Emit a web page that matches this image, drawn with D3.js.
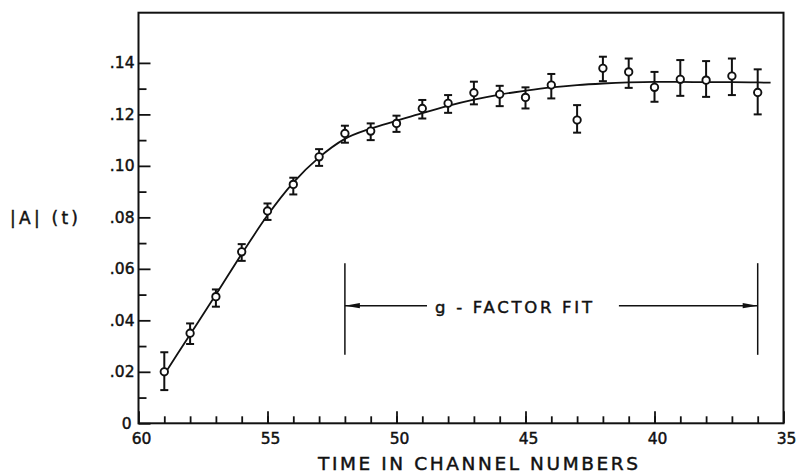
<!DOCTYPE html>
<html>
<head>
<meta charset="utf-8">
<script src="https://cdn.jsdelivr.net/npm/d3@7"></script>
<style>
  html, body { margin: 0; padding: 0; background: #fff; }
  svg { display: block; }
  text { font-family: "DejaVu Sans", "Liberation Sans", sans-serif; fill: #111; stroke: #111; stroke-width: 0.45px; }
</style>
</head>
<body>
<svg id="chart" width="796" height="473"></svg>
<script>
// Measured asymmetry |A|(t) per channel, with the lower and upper ends of each error bar
const channels = [59, 58, 57, 56, 55, 54, 53, 52, 51, 50, 49, 48, 47, 46, 45, 44, 43, 42, 41, 40, 39, 38, 37, 36];
const values   = [0.0200, 0.0350, 0.0492, 0.0666, 0.0825, 0.0928, 0.1035, 0.1126, 0.1135, 0.1165, 0.1223, 0.1243,
                  0.1284, 0.1278, 0.1266, 0.1314, 0.1178, 0.1379, 0.1365, 0.1305, 0.1336, 0.1333, 0.1349, 0.1285];
const errLow   = [0.0129, 0.0308, 0.0453, 0.0631, 0.0790, 0.0889, 0.1000, 0.1090, 0.1100, 0.1132, 0.1184, 0.1206,
                  0.1239, 0.1232, 0.1223, 0.1262, 0.1129, 0.1329, 0.1303, 0.1249, 0.1272, 0.1268, 0.1275, 0.1200];
const errHigh  = [0.0276, 0.0388, 0.0520, 0.0696, 0.0854, 0.0954, 0.1065, 0.1156, 0.1165, 0.1195, 0.1256, 0.1275,
                  0.1327, 0.1311, 0.1305, 0.1357, 0.1236, 0.1424, 0.1417, 0.1365, 0.1411, 0.1407, 0.1417, 0.1375];

// Fitted curve, sampled along its length
const fitChannels = [59, 58, 57, 56, 55, 54, 53, 52, 51, 50, 49, 48, 47, 46, 45, 44, 43, 42, 41, 40, 39, 38, 37, 36, 35.5];
const fitValues   = [0.0190, 0.0345, 0.0500, 0.0658, 0.0808, 0.0935, 0.1033, 0.1105, 0.1145, 0.1175, 0.1205, 0.1233,
                     0.1257, 0.1277, 0.1292, 0.1305, 0.1314, 0.1320, 0.1324, 0.1326, 0.1326, 0.1325, 0.1325, 0.1324, 0.1323];

// Fit-range bracket
const fitRange = [52, 36];
const bracketLevels = [0.0266, 0.0457, 0.0622]; // bottom, arrow, top

// Axes
const xDomain = [60, 35];
const yDomain = [0, 0.1595];
const xMajorTicks = [60, 55, 50, 45, 40, 35];
const xMinorTicks = d3.range(59, 35, -1);
const yMajorTicks = [0, 0.02, 0.04, 0.06, 0.08, 0.10, 0.12, 0.14];
const yMinorTicks = [0.01, 0.03, 0.05, 0.07, 0.09, 0.11, 0.13];
const yTickLabels = ["0", ".02", ".04", ".06", ".08", ".10", ".12", ".14"];

const xTitle = "TIME IN CHANNEL NUMBERS";
const yTitle = "|A| (t)";
const fitLabel = "g - FACTOR FIT";

const svg = d3.select("#chart");
const plotLeft = 138.5, plotRight = 783.5, plotTop = 12.7, plotBottom = 423.3;

const x = d3.scaleLinear().domain(xDomain).range([plotLeft, plotRight]);
const y = d3.scaleLinear().domain(yDomain).range([plotBottom, plotTop]);
const ink = "#111";

// Frame
svg.append("rect")
  .attr("x", plotLeft).attr("y", plotTop)
  .attr("width", plotRight - plotLeft).attr("height", plotBottom - plotTop)
  .attr("fill", "none").attr("stroke", ink).attr("stroke-width", 2);

// Inward ticks on the bottom axis
const xAxisMajor = d3.axisTop(x).tickValues(xMajorTicks).tickSize(12).tickFormat("");
const xAxisMinor = d3.axisTop(x).tickValues(xMinorTicks).tickSize(7).tickFormat("");
[xAxisMajor, xAxisMinor].forEach(ax => {
  const g = svg.append("g").attr("transform", `translate(0,${plotBottom})`).call(ax);
  g.select(".domain").remove();
  g.selectAll(".tick line").attr("stroke", ink).attr("stroke-width", 1.8);
});

// Inward ticks on the left axis
const yAxisMajor = d3.axisRight(y).tickValues(yMajorTicks).tickSize(12).tickFormat("");
const yAxisMinor = d3.axisRight(y).tickValues(yMinorTicks).tickSize(8).tickFormat("");
[yAxisMajor, yAxisMinor].forEach(ax => {
  const g = svg.append("g").attr("transform", `translate(${plotLeft},0)`).call(ax);
  g.select(".domain").remove();
  g.selectAll(".tick line").attr("stroke", ink).attr("stroke-width", 1.8);
});

// Tick labels
svg.append("g").selectAll("text").data(xMajorTicks).join("text")
  .attr("x", d => x(d) + 3)
  .attr("y", plotBottom + 20.5)
  .attr("text-anchor", "middle")
  .attr("font-size", 15.5)
  .text(d => d);

svg.append("g").selectAll("text").data(yMajorTicks).join("text")
  .attr("x", (d, i) => i === 0 ? plotLeft - 7 : plotLeft - 4)
  .attr("y", d => y(d))
  .attr("dy", "0.36em")
  .attr("text-anchor", "end")
  .attr("font-size", 15.5)
  .text((d, i) => yTickLabels[i]);

// Axis titles
svg.append("text")
  .attr("x", 318).attr("y", 469.5)
  .attr("font-size", 18.5)
  .attr("textLength", 320).attr("lengthAdjust", "spacing")
  .text(xTitle);

svg.append("text")
  .attr("x", 10).attr("y", 224)
  .attr("font-size", 17)
  .attr("textLength", 68).attr("lengthAdjust", "spacing")
  .text(yTitle);

// Fitted curve
const fitLine = d3.line()
  .x(d => x(d[0]))
  .y(d => y(d[1]))
  .curve(d3.curveMonotoneX);
svg.append("path")
  .datum(fitChannels.map((c, i) => [c, fitValues[i]]))
  .attr("d", fitLine)
  .attr("fill", "none").attr("stroke", ink).attr("stroke-width", 1.8);

// Error bars with caps, then open circles
const pts = channels.map((c, i) => ({ c, v: values[i], lo: errLow[i], hi: errHigh[i] }));
const capHalf = 4;
const eb = svg.append("g").attr("stroke", ink).attr("stroke-width", 2);
eb.selectAll("line.stem").data(pts).join("line").attr("class", "stem")
  .attr("x1", d => x(d.c)).attr("x2", d => x(d.c))
  .attr("y1", d => y(d.lo)).attr("y2", d => y(d.hi));
eb.selectAll("line.capHi").data(pts).join("line").attr("class", "capHi")
  .attr("x1", d => x(d.c) - capHalf).attr("x2", d => x(d.c) + capHalf)
  .attr("y1", d => y(d.hi)).attr("y2", d => y(d.hi));
eb.selectAll("line.capLo").data(pts).join("line").attr("class", "capLo")
  .attr("x1", d => x(d.c) - capHalf).attr("x2", d => x(d.c) + capHalf)
  .attr("y1", d => y(d.lo)).attr("y2", d => y(d.lo));

svg.append("g").selectAll("circle").data(pts).join("circle")
  .attr("cx", d => x(d.c)).attr("cy", d => y(d.v))
  .attr("r", 3.7)
  .attr("fill", "#fff").attr("stroke", ink).attr("stroke-width", 1.9);

// Fit-range bracket with arrows
const bx0 = x(fitRange[0]), bx1 = x(fitRange[1]);
const by = y(bracketLevels[1]);
const br = svg.append("g").attr("stroke", ink).attr("stroke-width", 1.5);
fitRange.forEach(c => {
  br.append("line")
    .attr("x1", x(c)).attr("x2", x(c))
    .attr("y1", y(bracketLevels[0])).attr("y2", y(bracketLevels[2]));
});

const label = svg.append("text")
  .attr("x", 435).attr("y", by + 7)
  .attr("font-size", 16.5)
  .attr("textLength", 157).attr("lengthAdjust", "spacing")
  .text(fitLabel);
const lb = label.node().getBBox();

br.append("line").attr("x1", bx0).attr("x2", lb.x - 8).attr("y1", by).attr("y2", by);
br.append("line").attr("x1", lb.x + lb.width + 26).attr("x2", bx1).attr("y1", by).attr("y2", by);

const headLen = 15, headHalf = 2.6;
svg.append("path")
  .attr("d", `M${bx0},${by} L${bx0 + headLen},${by - headHalf} L${bx0 + headLen},${by + headHalf} Z`)
  .attr("fill", ink);
svg.append("path")
  .attr("d", `M${bx1},${by} L${bx1 - headLen},${by - headHalf} L${bx1 - headLen},${by + headHalf} Z`)
  .attr("fill", ink);
</script>
</body>
</html>
